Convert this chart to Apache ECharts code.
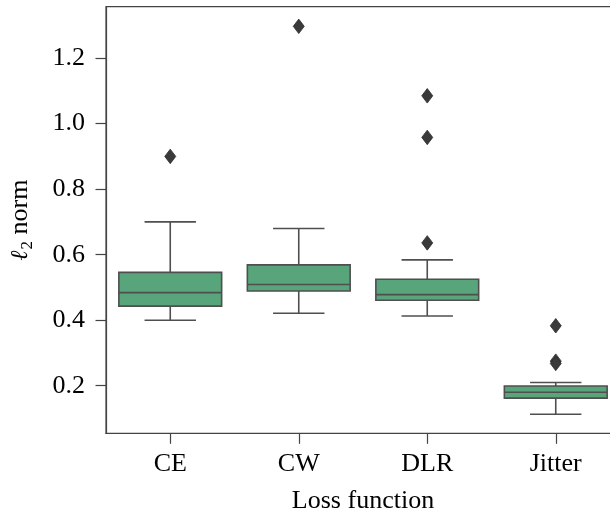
<!DOCTYPE html>
<html>
<head>
<meta charset="utf-8">
<script src="https://cdn.jsdelivr.net/npm/echarts@6/dist/echarts.min.js"></script>
<style>html,body{margin:0;padding:0;background:#fff}#c{width:610px;height:514px}</style>
</head>
<body>
<div id="c"></div>
<script>
const categories = ['CE', 'CW', 'DLR', 'Jitter'];
const whiskerLow = [0.400, 0.421, 0.413, 0.113];
const q1 = [0.443, 0.489, 0.461, 0.162];
const median = [0.484, 0.509, 0.478, 0.180];
const q3 = [0.546, 0.569, 0.525, 0.199];
const whiskerHigh = [0.700, 0.680, 0.584, 0.210];
const outliers = [
  [0, 0.900],
  [1, 1.297],
  [2, 1.085], [2, 0.958], [2, 0.636],
  [3, 0.383], [3, 0.275], [3, 0.268]
];
const yTicks = [0.2, 0.4, 0.6, 0.8, 1.0, 1.2];

const boxData = categories.map((c, i) => [i, whiskerLow[i], q1[i], median[i], q3[i], whiskerHigh[i]]);

const lineCol = '#4f4f4f';
const fillCol = '#58a47b';
const font = 'Liberation Serif';

const chart = echarts.init(document.getElementById('c'));
chart.setOption({
  animation: false,
  backgroundColor: '#fff',
  grid: {left: 106, top: 6.7, width: 514, height: 426.6, outerBoundsMode: 'none', containLabel: false, show: true, borderColor: '#444', borderWidth: 1.2, backgroundColor: 'transparent'},
  xAxis: {
    type: 'category', data: categories,
    axisLine: {show: true, lineStyle: {color: '#444', width: 1.2}},
    axisTick: {show: true, alignWithLabel: true, length: 10.5, lineStyle: {color: '#444', width: 1.2}},
    axisLabel: {fontFamily: font, fontSize: 26, color: '#000', margin: 18},
    splitLine: {show: false},
    name: 'Loss function', nameLocation: 'middle', nameGap: 55,
    nameTextStyle: {fontFamily: font, fontSize: 26, color: '#000'}
  },
  yAxis: {
    type: 'value', min: 0.0547, max: 1.357,
    axisLine: {show: true, lineStyle: {color: '#444', width: 1.2}},
    axisTick: {show: true, length: 10.5, customValues: yTicks, lineStyle: {color: '#444', width: 1.2}},
    axisLabel: {fontFamily: font, fontSize: 26, color: '#000', margin: 21, customValues: yTicks, formatter: v => v.toFixed(1)},
    splitLine: {show: false},
    name: '{a|ℓ}{s|2}{n| norm}', nameLocation: 'middle', nameGap: 70, nameRotate: 90,
    nameTextStyle: {
      fontFamily: font, fontSize: 26, color: '#000',
      rich: {
        a: {fontFamily: 'DejaVu Serif', fontStyle: 'italic', fontSize: 24, color: '#000'},
        s: {fontFamily: font, fontSize: 17, color: '#000', padding: [14, 0, 0, 1]},
        n: {fontFamily: font, fontSize: 26, color: '#000'}
      }
    }
  },
  series: [
    {
      type: 'custom',
      data: boxData,
      encode: {x: 0, y: [1, 2, 3, 4, 5]},
      renderItem: function (params, api) {
        const idx = api.value(0);
        const cx = api.coord([idx, 0])[0];
        const bandW = api.size([1, 0])[0];
        const boxW = bandW * 0.8;
        const capW = boxW / 2;
        const yLo = api.coord([idx, api.value(1)])[1];
        const yQ1 = api.coord([idx, api.value(2)])[1];
        const yMed = api.coord([idx, api.value(3)])[1];
        const yQ3 = api.coord([idx, api.value(4)])[1];
        const yHi = api.coord([idx, api.value(5)])[1];
        const ls = {stroke: lineCol, lineWidth: 1.6};
        return {
          type: 'group',
          children: [
            {type: 'line', shape: {x1: cx, y1: yQ1, x2: cx, y2: yLo}, style: ls},
            {type: 'line', shape: {x1: cx - capW / 2, y1: yLo, x2: cx + capW / 2, y2: yLo}, style: ls},
            {type: 'line', shape: {x1: cx, y1: yQ3, x2: cx, y2: yHi}, style: ls},
            {type: 'line', shape: {x1: cx - capW / 2, y1: yHi, x2: cx + capW / 2, y2: yHi}, style: ls},
            {type: 'rect', shape: {x: cx - boxW / 2, y: yQ3, width: boxW, height: yQ1 - yQ3}, style: {fill: fillCol, stroke: lineCol, lineWidth: 1.6}},
            {type: 'line', shape: {x1: cx - boxW / 2, y1: yMed, x2: cx + boxW / 2, y2: yMed}, style: ls}
          ]
        };
      }
    },
    {
      type: 'scatter',
      data: outliers,
      symbol: 'diamond',
      symbolSize: [11, 14.5],
      itemStyle: {color: '#3a3a3a', borderColor: '#2e2e2e', borderWidth: 0.8, opacity: 1},
      z: 5
    }
  ]
});
</script>
</body>
</html>
